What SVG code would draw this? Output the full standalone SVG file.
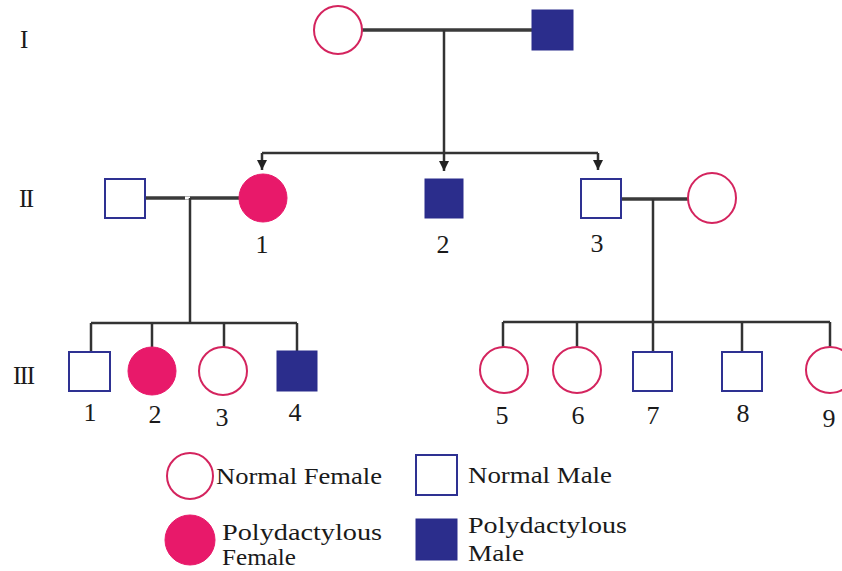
<svg xmlns="http://www.w3.org/2000/svg" width="842" height="571" viewBox="0 0 842 571">
<style>
text{font-family:"Liberation Serif","DejaVu Serif","Times New Roman",serif;fill:#1a1a1a}
.gen{font-size:25px}
.num{font-size:26px;text-anchor:middle}
.leg{font-size:24px}
.fo{fill:#fff;stroke:#d4245e;stroke-width:2}
.ff{fill:#e8196a;stroke:#e8196a;stroke-width:1}
.mo{fill:#fff;stroke:#2e3192;stroke-width:2}
.mf{fill:#2b2d8c;stroke:#2b2d8c;stroke-width:1}
.ln{stroke:#333;stroke-width:2.5;fill:none}
.mar{stroke:#3a3a3a;stroke-width:3.5;fill:none}
</style>
<defs>
<marker id="arr" markerUnits="userSpaceOnUse" markerWidth="11" markerHeight="10" refX="10" refY="5" orient="auto">
<path d="M0,0 L10,5 L0,10 z" fill="#222"/>
</marker>
</defs>
<rect width="842" height="571" fill="#fff"/>

<g id="generation-labels">
<text class="gen" x="20" y="48">I</text>
<text class="gen" x="19" y="207" letter-spacing="-1.5">II</text>
<text class="gen" x="13" y="384" letter-spacing="-1.5">III</text>
</g>

<g id="connectors">
<line class="mar" x1="362" y1="30" x2="532" y2="30"/>
<line class="ln" x1="444" y1="30" x2="444" y2="171" marker-end="url(#arr)"/>
<line class="ln" x1="262" y1="153" x2="598" y2="153"/>
<line class="ln" x1="262" y1="153" x2="262" y2="170" marker-end="url(#arr)"/>
<line class="ln" x1="598" y1="153" x2="598" y2="170" marker-end="url(#arr)"/>
<line class="mar" x1="145" y1="198" x2="239" y2="198"/>
<rect x="185" y="196.5" width="5" height="3" fill="#fff"/>
<line class="ln" x1="190" y1="198" x2="190" y2="323"/>
<line class="ln" x1="91" y1="323" x2="297" y2="323"/>
<line class="ln" x1="91" y1="323" x2="91" y2="352"/>
<line class="ln" x1="152" y1="323" x2="152" y2="347"/>
<line class="ln" x1="224" y1="323" x2="224" y2="347"/>
<line class="ln" x1="297" y1="323" x2="297" y2="351"/>
<line class="mar" x1="621" y1="199" x2="688" y2="199"/>
<line class="ln" x1="653" y1="199" x2="653" y2="322"/>
<line class="ln" x1="503" y1="322" x2="830" y2="322"/>
<line class="ln" x1="503" y1="322" x2="503" y2="347"/>
<line class="ln" x1="577" y1="322" x2="577" y2="347"/>
<line class="ln" x1="653" y1="322" x2="653" y2="352"/>
<line class="ln" x1="742" y1="322" x2="742" y2="352"/>
<line class="ln" x1="830" y1="322" x2="830" y2="347"/>
</g>

<g id="I-1"><ellipse class="fo" cx="338" cy="30" rx="24" ry="24"/></g>
<g id="I-2"><rect class="mf" x="532" y="10" width="41" height="40"/></g>

<g id="II-spouse-1"><rect class="mo" x="105" y="179" width="40" height="39"/></g>
<g id="II-1"><ellipse class="ff" cx="263" cy="198" rx="24" ry="24"/><text class="num" x="262" y="253">1</text></g>
<g id="II-2"><rect class="mf" x="425" y="179" width="38" height="39"/><text class="num" x="443" y="253">2</text></g>
<g id="II-3"><rect class="mo" x="581" y="179" width="40" height="39"/><text class="num" x="597" y="252">3</text></g>
<g id="II-spouse-3"><ellipse class="fo" cx="712" cy="198" rx="24" ry="25"/></g>

<g id="III-1"><rect class="mo" x="69" y="352" width="41" height="39"/><text class="num" x="90" y="421">1</text></g>
<g id="III-2"><ellipse class="ff" cx="152" cy="371" rx="24" ry="24"/><text class="num" x="155" y="423">2</text></g>
<g id="III-3"><ellipse class="fo" cx="223" cy="371" rx="24" ry="24"/><text class="num" x="222" y="426">3</text></g>
<g id="III-4"><rect class="mf" x="277" y="351" width="40" height="40"/><text class="num" x="295" y="421">4</text></g>
<g id="III-5"><ellipse class="fo" cx="504" cy="370" rx="24" ry="23"/><text class="num" x="502" y="424">5</text></g>
<g id="III-6"><ellipse class="fo" cx="577" cy="370" rx="24" ry="23"/><text class="num" x="578" y="424">6</text></g>
<g id="III-7"><rect class="mo" x="633" y="352" width="39" height="39"/><text class="num" x="653" y="424">7</text></g>
<g id="III-8"><rect class="mo" x="722" y="352" width="40" height="39"/><text class="num" x="743" y="422">8</text></g>
<g id="III-9"><ellipse class="fo" cx="830" cy="370" rx="24" ry="23"/><text class="num" x="829" y="427">9</text></g>

<g id="legend-normal-female"><ellipse class="fo" cx="190" cy="476" rx="23" ry="23"/><text class="leg" x="216" y="484" textLength="166" lengthAdjust="spacingAndGlyphs">Normal Female</text></g>
<g id="legend-normal-male"><rect class="mo" x="416" y="455" width="41" height="40"/><text class="leg" x="468" y="483" textLength="144" lengthAdjust="spacingAndGlyphs">Normal Male</text></g>
<g id="legend-poly-female"><ellipse class="ff" cx="190" cy="540" rx="25" ry="25"/><text class="leg" x="222" y="540" textLength="160" lengthAdjust="spacingAndGlyphs">Polydactylous</text><text class="leg" x="222" y="565" textLength="74" lengthAdjust="spacingAndGlyphs">Female</text></g>
<g id="legend-poly-male"><rect class="mf" x="416" y="519" width="41" height="41"/><text class="leg" x="468" y="533" textLength="159" lengthAdjust="spacingAndGlyphs">Polydactylous</text><text class="leg" x="468" y="561" textLength="56" lengthAdjust="spacingAndGlyphs">Male</text></g>
</svg>
